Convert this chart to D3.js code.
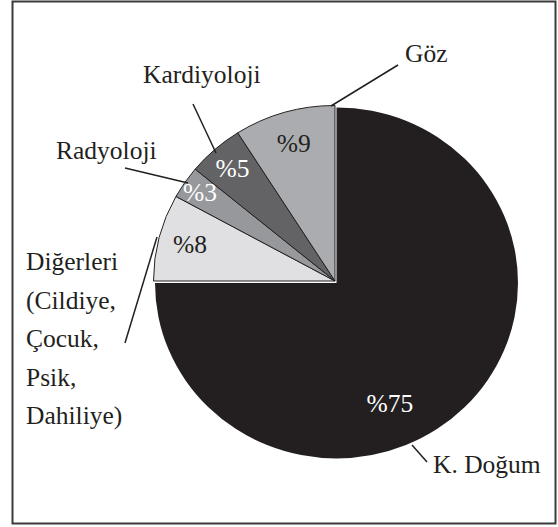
<!DOCTYPE html>
<html>
<head>
<meta charset="utf-8">
<script src="https://cdn.jsdelivr.net/npm/d3@7"></script>
</head>
<body style="margin:0">
<svg width="558" height="527"></svg>
<script>
// data
var categories = ["K. Doğum", "Diğerleri", "Radyoloji", "Kardiyoloji", "Göz"];
var values = [75, 8, 3, 5, 9];
var sliceColors = ["#231f20", "#e0e0e2", "#97989b", "#636365", "#abacaf"];
var pctColors = ["#ffffff", "#231f20", "#ffffff", "#ffffff", "#231f20"];
var otherLines = ["Diğerleri", "(Cildiye,", "Çocuk,", "Psik,", "Dahiliye)"];

var svg = d3.select("svg"),
    ink = "#231f20",
    font = "'Liberation Serif'",
    fontSize = "25.5px",
    cx = 335, cy = 281,
    r = 181.5,
    squash = 0.967;

// frame
svg.append("rect")
  .attr("x", 12.5).attr("y", 1.5)
  .attr("width", 543).attr("height", 522)
  .attr("fill", "none")
  .attr("stroke", "#3a3a3a")
  .attr("stroke-width", 2);

var data = categories.map(function(c, i) { return {name: c, value: values[i], i: i}; });

var pie = d3.pie().sort(null).value(function(d) { return d.value; });
var arcs = pie(data);
var arc = d3.arc().innerRadius(0).outerRadius(r);

// the big slice sits a hair down/right of the rest
var g = svg.append("g")
  .attr("transform", "translate(" + cx + "," + cy + ") scale(1," + squash + ")");

g.selectAll(".slice")
  .data(arcs)
  .enter().append("path")
  .attr("class", "slice")
  .attr("transform", function(d) { return d.data.i == 0 ? "translate(1.5,2)" : null; })
  .attr("d", arc)
  .attr("fill", function(d) { return sliceColors[d.data.i]; })
  .attr("stroke", function(d) { return d.data.i == 0 ? "none" : ink; })
  .attr("stroke-width", 1);

// percent labels
var labelK = [0.76, 0.825, 0.90, 0.854, 0.815];
function pctPos(d) {
  var a = d.data.i == 0 ? (156.6 * Math.PI / 180) : (d.startAngle + d.endAngle) / 2;
  var rr = r * labelK[d.data.i];
  return [cx + Math.sin(a) * rr, cy - Math.cos(a) * rr * squash];
}

svg.selectAll(".pct")
  .data(arcs)
  .enter().append("text")
  .attr("class", "pct")
  .attr("x", function(d) { return pctPos(d)[0]; })
  .attr("y", function(d) { return pctPos(d)[1]; })
  .attr("dy", "0.33em")
  .attr("text-anchor", "middle")
  .style("font-family", font)
  .attr("font-size", fontSize)
  .attr("fill", function(d) { return pctColors[d.data.i]; })
  .text(function(d) { return "%" + d.data.value; });

// callouts
var callouts = {
  "K. Doğum":   {x: 433, y: 473, line: [[412, 445], [427, 462]]},
  "Diğerleri":  {x: 26,  y: 270, line: [[157, 237], [125, 343]]},
  "Radyoloji":  {x: 56,  y: 159, line: [[188, 183], [125, 168]]},
  "Kardiyoloji":{x: 143, y: 83,  line: [[216, 153], [193, 104]]},
  "Göz":        {x: 405, y: 62,  line: [[331, 106], [398, 65]]}
};

categories.forEach(function(c) {
  var co = callouts[c];
  svg.append("line")
    .attr("x1", co.line[0][0]).attr("y1", co.line[0][1])
    .attr("x2", co.line[1][0]).attr("y2", co.line[1][1])
    .attr("stroke", ink)
    .attr("stroke-width", 1.5);

  var t = svg.append("text")
    .attr("x", co.x).attr("y", co.y)
    .style("font-family", font)
    .attr("font-size", fontSize)
    .attr("fill", ink);

  if (c == "Diğerleri") {
    otherLines.forEach(function(s, k) {
      t.append("tspan").attr("x", co.x).attr("y", co.y + k * 38.5).text(s);
    });
  } else {
    t.text(c);
  }
});
</script>
</body>
</html>
